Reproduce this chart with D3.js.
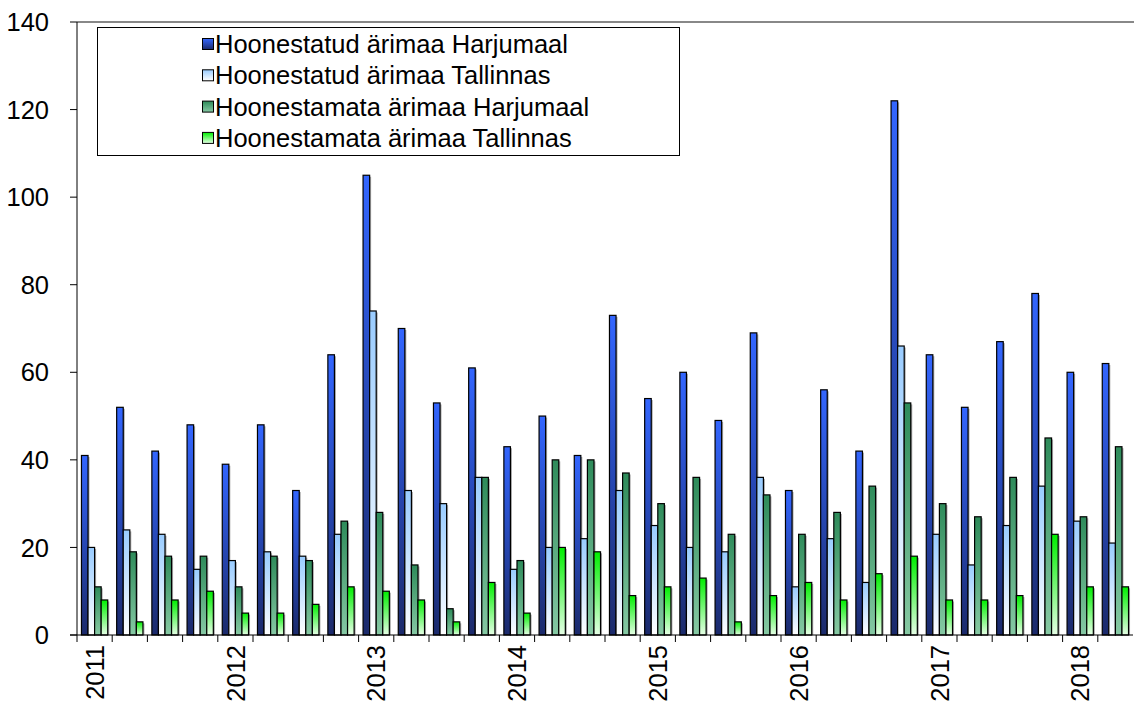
<!DOCTYPE html>
<html>
<head>
<meta charset="utf-8">
<script src="https://cdn.jsdelivr.net/npm/d3@7"></script>
<style>
  body { margin: 0; background: #fff; }
  svg { font-family: "Liberation Sans", Arial, sans-serif; }
</style>
</head>
<body>
<svg id="chart" width="1134" height="705"></svg>
<script>
// quarters 2011 Q1 .. 2018 Q2
var years = ["2011", "2012", "2013", "2014", "2015", "2016", "2017", "2018"];
var quarters = [];
years.forEach(y => [1, 2, 3, 4].forEach(q => quarters.push(y + " Q" + q)));
quarters = quarters.slice(0, 30);

var seriesNames = [
    "Hoonestatud ärimaa Harjumaal",
    "Hoonestatud ärimaa Tallinnas",
    "Hoonestamata ärimaa Harjumaal",
    "Hoonestamata ärimaa Tallinnas"
];

var builtHarju = [41, 52, 42, 48, 39, 48, 33, 64, 105, 70, 53, 61, 43, 50, 41, 73, 54, 60, 49, 69, 33, 56, 42, 122, 64, 52, 67, 78, 60, 62];
var builtTallinn = [20, 24, 23, 15, 17, 19, 18, 23, 74, 33, 30, 36, 15, 20, 22, 33, 25, 20, 19, 36, 11, 22, 12, 66, 23, 16, 25, 34, 26, 21];
var unbuiltHarju = [11, 19, 18, 18, 11, 18, 17, 26, 28, 16, 6, 36, 17, 40, 40, 37, 30, 36, 23, 32, 23, 28, 34, 53, 30, 27, 36, 45, 27, 43];
var unbuiltTallinn = [8, 3, 8, 10, 5, 5, 7, 11, 10, 8, 3, 12, 5, 20, 19, 9, 11, 13, 3, 9, 12, 8, 14, 18, 8, 8, 9, 23, 11, 11];

var yTicks = [0, 20, 40, 60, 80, 100, 120, 140];

var seriesValues = [builtHarju, builtTallinn, unbuiltHarju, unbuiltTallinn];

// gradient colours, top -> bottom
var gradColors = [
    ["#3366ff", "#1b2a6b"],
    ["#99ccff", "#ffffff"],
    ["#2e8b5a", "#86c9a4"],
    ["#00ee00", "#e6ffe6"]
];

var svg = d3.select("#chart");
var margin = { left: 77, right: 1, top: 22, bottom: 70 };
var width = 1134 - margin.left - margin.right;
var height = 705 - margin.top - margin.bottom;

var defs = svg.append("defs");
gradColors.forEach((c, i) => {
    var g = defs.append("linearGradient")
        .attr("id", "grad" + i)
        .attr("x1", 0).attr("y1", 0).attr("x2", 0).attr("y2", 1);
    g.append("stop").attr("offset", "0%").attr("stop-color", c[0]);
    g.append("stop").attr("offset", "100%").attr("stop-color", c[1]);
});

var x = d3.scaleBand()
    .domain(quarters)
    .range([margin.left, margin.left + width]);

var xInner = d3.scaleBand()
    .domain(d3.range(4))
    .range([0, x.bandwidth()])
    .paddingOuter(0.68)
    .paddingInner(0);

var y = d3.scaleLinear()
    .domain([0, 140])
    .range([margin.top + height, margin.top]);

// top frame line
svg.append("line")
    .attr("x1", margin.left).attr("x2", 1134)
    .attr("y1", margin.top).attr("y2", margin.top)
    .attr("stroke", "#888").attr("stroke-width", 2);

// bars
var groups = svg.append("g")
    .selectAll("g")
    .data(quarters)
    .join("g")
    .attr("transform", d => `translate(${x(d)},0)`);

seriesValues.forEach((vals, si) => {
    // shadow
    groups.append("rect")
        .attr("x", xInner(si) + 1.5)
        .attr("y", (d, i) => y(vals[i]) + 1.5)
        .attr("width", xInner.bandwidth())
        .attr("height", (d, i) => y(0) - y(vals[i]) - 1.5)
        .attr("fill", "#aaa");
    groups.append("rect")
        .attr("x", xInner(si))
        .attr("y", (d, i) => y(vals[i]))
        .attr("width", xInner.bandwidth())
        .attr("height", (d, i) => y(0) - y(vals[i]))
        .attr("fill", `url(#grad${si})`)
        .attr("stroke", "#000")
        .attr("stroke-width", 1.2);
});

// y axis
var yAxis = svg.append("g");
yAxis.append("line")
    .attr("x1", margin.left).attr("x2", margin.left)
    .attr("y1", y(140)).attr("y2", y(0))
    .attr("stroke", "#000");
yAxis.selectAll(".tick")
    .data(yTicks)
    .join("line")
    .attr("x1", margin.left - 7).attr("x2", margin.left)
    .attr("y1", d => y(d)).attr("y2", d => y(d))
    .attr("stroke", "#000");
yAxis.selectAll("text")
    .data(yTicks)
    .join("text")
    .attr("x", 49)
    .attr("y", d => y(d))
    .attr("dy", "0.36em")
    .attr("text-anchor", "end")
    .attr("font-size", 25.5)
    .text(d => d);

// x axis
var xAxis = svg.append("g");
xAxis.append("line")
    .attr("x1", margin.left - 7).attr("x2", margin.left + width)
    .attr("y1", y(0)).attr("y2", y(0))
    .attr("stroke", "#000");
xAxis.selectAll("line.tick")
    .data(quarters)
    .join("line")
    .attr("class", "tick")
    .attr("x1", d => x(d)).attr("x2", d => x(d))
    .attr("y1", y(0)).attr("y2", y(0) + 7)
    .attr("stroke", "#000");
xAxis.selectAll("text")
    .data(years)
    .join("text")
    .attr("transform", d => `translate(${x(d + " Q1") + x.bandwidth() / 2},${y(0) + 10}) rotate(-90)`)
    .attr("dy", "0.36em")
    .attr("text-anchor", "end")
    .attr("font-size", 25.5)
    .text(d => d);

// legend
var legend = svg.append("g");
legend.append("rect")
    .attr("x", 97.5).attr("y", 27.5)
    .attr("width", 582).attr("height", 128)
    .attr("fill", "#fff")
    .attr("stroke", "#000");
seriesNames.forEach((name, i) => {
    var cy = 44 + i * 31.3;
    legend.append("rect")
        .attr("x", 202.5).attr("y", cy - 5.5)
        .attr("width", 11).attr("height", 11)
        .attr("fill", `url(#grad${i})`)
        .attr("stroke", "#000");
    legend.append("text")
        .attr("x", 215)
        .attr("y", cy)
        .attr("dy", "0.36em")
        .attr("font-size", 25.5)
        .text(name);
});
</script>
</body>
</html>
